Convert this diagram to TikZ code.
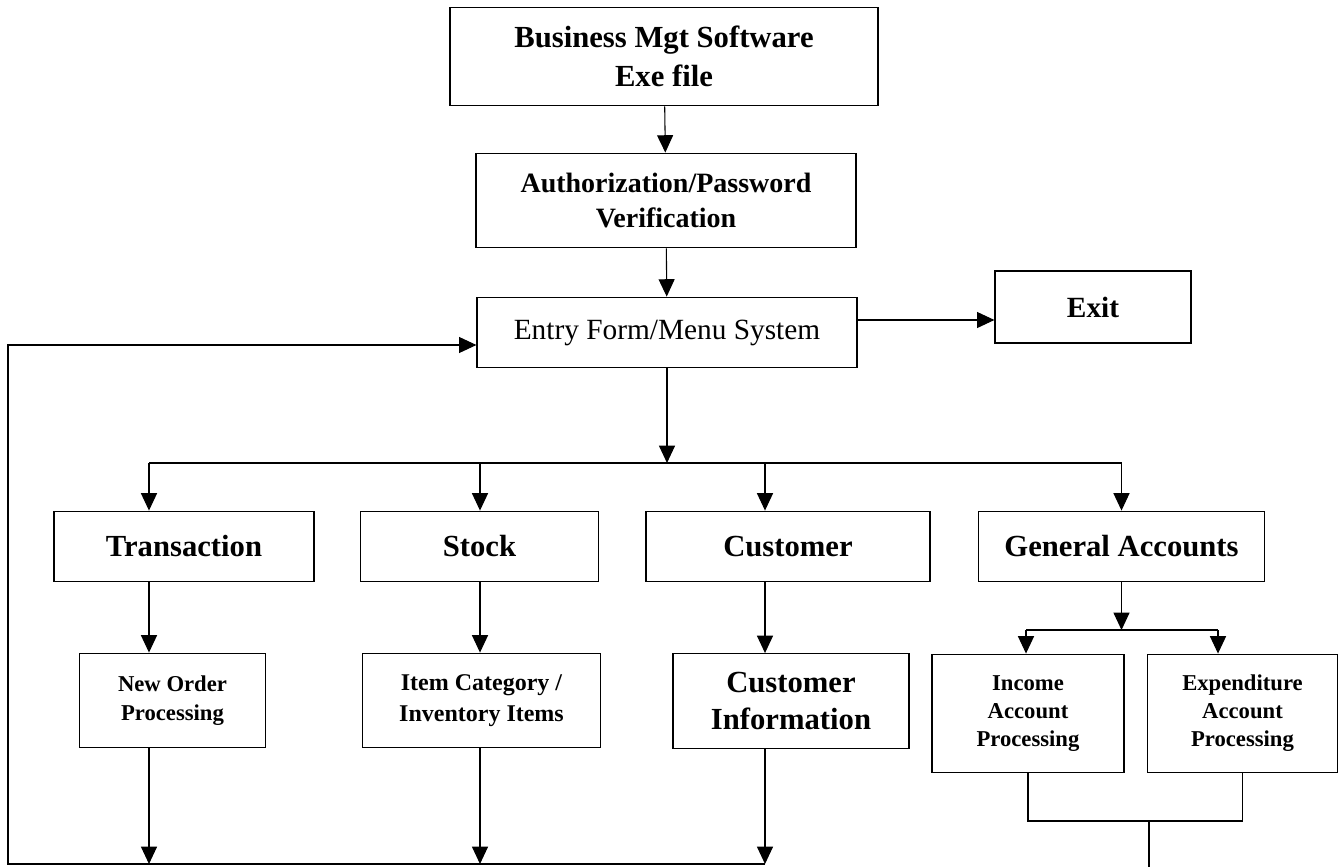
\documentclass[tikz,border=0pt]{standalone}
\usepackage{fontspec}
\setmainfont{Liberation Serif}
\usetikzlibrary{arrows.meta}
\begin{document}
\begin{tikzpicture}[x=0.75pt,y=-0.75pt,
  box/.style={draw, line width=0.9pt, inner sep=0pt, align=center},
  bigb/.style={box, font=\fontsize{23}{29}\selectfont\bfseries},
  midb/.style={box, font=\fontsize{17}{21}\selectfont\bfseries},
  conn/.style={line width=0.8pt},
  arr/.style={conn, -{Triangle[length=13pt,width=12pt]}}]
\useasboundingbox (0,0) rectangle (1339,867);

% boxes
\node[bigb, minimum width=321pt, minimum height=74pt] (biz) at (664,56.5) {Business Mgt Software\\Exe file};
\node[box, font=\fontsize{21}{26}\selectfont\bfseries, minimum width=285pt, minimum height=71pt] (auth) at (666,200.5) {Authorization/Password\\Verification};
\node[box, font=\fontsize{22}{26}\selectfont, minimum width=285pt, minimum height=53pt] (entry) at (667,332.5) {Entry Form/Menu System};
\node[box, font=\fontsize{22}{26}\selectfont\bfseries, minimum width=147pt, minimum height=54pt] (exit) at (1093,307) {Exit};

\node[bigb, minimum width=195pt, minimum height=53pt] (trans) at (184,546.5) {Transaction};
\node[bigb, minimum width=178pt, minimum height=53pt] (stock) at (479.5,546.5) {Stock};
\node[bigb, minimum width=213pt, minimum height=53pt] (cust) at (788,546.5) {Customer};
\node[bigb, minimum width=214pt, minimum height=53pt] (ga) at (1121.5,546.5) {General Accounts};

\node[midb, font=\fontsize{17}{22}\selectfont\bfseries, minimum width=140pt, minimum height=71pt] (neworder) at (172.5,700.5) {New Order\\Processing};
\node[midb, font=\fontsize{18}{23}\selectfont\bfseries, minimum width=178pt, minimum height=71pt] (itemcat) at (481.5,700.5) {Item Category /\\Inventory Items};
\node[bigb, font=\fontsize{23}{28}\selectfont\bfseries, minimum width=177pt, minimum height=71pt] (custinfo) at (791,701) {Customer\\Information};
\node[midb, minimum width=144pt, minimum height=89pt] (income) at (1028,713.5) {Income\\Account\\Processing};
\node[midb, minimum width=142pt, minimum height=89pt] (exp) at (1242.5,713.5) {Expenditure\\Account\\Processing};

% helper coordinates
\coordinate (ex) at (0,320);
\coordinate (jT) at (149,463);
\coordinate (jS) at (480,463);
\coordinate (jC) at (765,463);
\coordinate (jG) at (1121.5,463);
\coordinate (gI) at (1026,630);
\coordinate (gE) at (1218,630);
\coordinate (jn) at (1149,821);
\coordinate (jnEnd) at (1149,867);
\coordinate (bT) at (149,864);
\coordinate (bS) at (480,864);
\coordinate (bC) at (765,864);
\coordinate (bL) at (8,864);
\coordinate (fb) at (8,345);

% top chain
\draw[arr] (biz) -- (auth);
\draw[arr] (auth) -- (entry);
\draw[arr] (entry.east |- ex) -- (exit.west |- ex);

% branch to modules
\draw[arr] (entry.south) -- (entry.south |- jT);
\draw[conn] (jT) -- (jG);
\draw[arr] (jT) -- (jT |- trans.north);
\draw[arr] (jS) -- (jS |- stock.north);
\draw[arr] (jC) -- (jC |- cust.north);
\draw[arr] (jG) -- (ga.north);

% module to sub-module
\draw[arr] (jT |- trans.south) -- (jT |- neworder.north);
\draw[arr] (jS |- stock.south) -- (jS |- itemcat.north);
\draw[arr] (jC |- cust.south) -- (jC |- custinfo.north);
\draw[arr] (ga.south) -- (ga.south |- gI);
\draw[conn] (gI) -- (gE);
\draw[arr] (gI) -- (gI |- income.north);
\draw[arr] (gE) -- (gE |- exp.north);

% sub-modules down to return line
\draw[arr] (jT |- neworder.south) -- (bT);
\draw[arr] (jS |- itemcat.south) -- (bS);
\draw[arr] (jC |- custinfo.south) -- (bC);
\draw[conn] (income.south) -- (income.south |- jn) -- (exp.south |- jn) -- (exp.south);
\draw[conn] (jn) -- (jnEnd);

% return loop
\draw[arr] (bC) -- (bL) -- (fb) -- (fb -| entry.west);
\end{tikzpicture}
\end{document}
